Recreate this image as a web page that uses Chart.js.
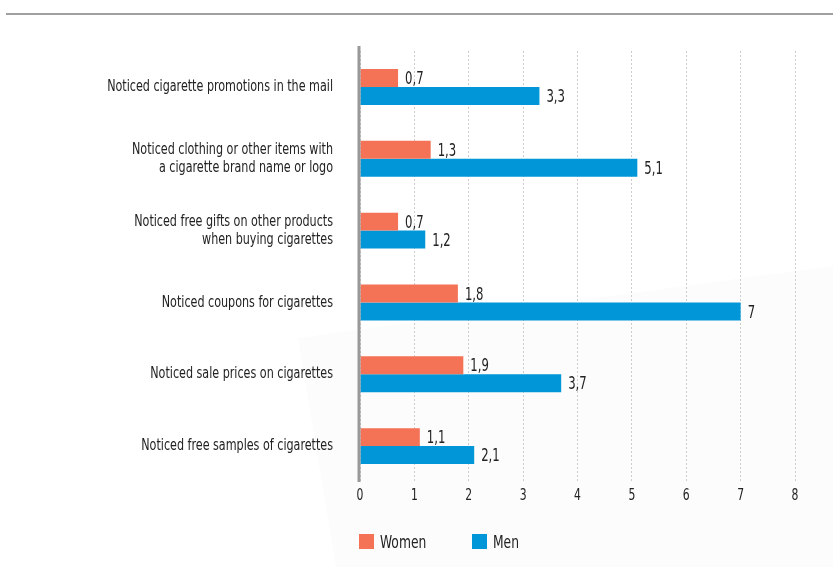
<!DOCTYPE html>
<html>
<head>
<meta charset="utf-8">
<script src="https://cdn.jsdelivr.net/npm/chart.js@4/dist/chart.umd.min.js"></script>
<style>
  html,body{margin:0;padding:0;background:#fff;}
  #wrap{position:relative;width:833px;height:567px;overflow:hidden;background:#fff;}
  #bgshape{position:absolute;left:0;top:0;width:833px;height:567px;background:#fcfcfc;
    clip-path:polygon(298px 338px, 833px 266px, 833px 567px, 336px 567px);}
  #topline{position:absolute;left:6px;right:0;top:13px;height:2px;background:#a0a0a0;}
  canvas{position:absolute;left:0;top:0;}
  .leg{position:absolute;top:532px;font-family:"DejaVu Sans Condensed","DejaVu Sans",sans-serif;font-size:18px;color:#222;display:flex;align-items:center;height:18px;}
  .sw{width:15px;height:15px;display:inline-block;margin-right:6px;flex:none;}
  .lt{display:inline-block;transform:scaleX(0.76);transform-origin:left center;}
</style>
</head>
<body>
<div id="wrap">
  <div id="bgshape"></div>
  <div id="topline"></div>
  <canvas id="c" width="833" height="567"></canvas>
  <div class="leg" style="left:359px;"><span class="sw" style="background:#F47256"></span><span class="lt">Women</span></div>
  <div class="leg" style="left:472px;"><span class="sw" style="background:#0096D8"></span><span class="lt">Men</span></div>
</div>
<script>
const categories = [
  ["Noticed cigarette promotions in the mail"],
  ["Noticed clothing or other items with", "a cigarette brand name or logo"],
  ["Noticed free gifts on other products", "when buying cigarettes"],
  ["Noticed coupons for cigarettes"],
  ["Noticed sale prices on cigarettes"],
  ["Noticed free samples of cigarettes"]
];
const women = [0.7, 1.3, 0.7, 1.8, 1.9, 1.1];
const men = [3.3, 5.1, 1.2, 7, 3.7, 2.1];
const xTicks = [0,1,2,3,4,5,6,7,8];

const FONT = '"DejaVu Sans Condensed","DejaVu Sans",sans-serif';

function drawText(ctx, txt, x, y, align, size, sx) {
  ctx.save();
  ctx.font = size + 'px ' + FONT;
  ctx.textBaseline = 'middle';
  ctx.textAlign = align;
  ctx.translate(x, y);
  ctx.scale(sx, 1);
  ctx.fillText(txt, 0, 0);
  ctx.restore();
}

const textPlugin = {
  id: 'textPlugin',
  afterDraw(chart) {
    const ctx = chart.ctx;
    ctx.save();
    ctx.fillStyle = '#222';
    chart.data.datasets.forEach((ds, di) => {
      const meta = chart.getDatasetMeta(di);
      meta.data.forEach((bar, i) => {
        const txt = String(ds.data[i]).replace('.', ',');
        drawText(ctx, txt, bar.x + 7, bar.y + 1.5, 'left', 18, 0.72);
      });
    });
    const ys = chart.scales.y;
    chart.data.labels.forEach((lab, i) => {
      const cy = ys.getPixelForValue(i);
      const lh = 18;
      const n = lab.length;
      lab.forEach((line, k) => {
        const y = cy - (n - 1) * lh / 2 + k * lh;
        drawText(ctx, line, 333, y, 'right', 16, 0.775);
      });
    });
    const xs = chart.scales.x;
    xTicks.forEach(v => {
      drawText(ctx, String(v), xs.getPixelForValue(v), chart.chartArea.bottom + 14, 'center', 16, 0.75);
    });
    ctx.restore();
  }
};

const axisLine = {
  id: 'axisLine',
  afterDatasetsDraw(chart) {
    const ctx = chart.ctx;
    const x = chart.scales.x.getPixelForValue(0);
    ctx.save();
    ctx.strokeStyle = '#999';
    ctx.lineWidth = 3;
    ctx.beginPath();
    ctx.moveTo(x - 1, chart.chartArea.top - 5);
    ctx.lineTo(x - 1, chart.chartArea.bottom);
    ctx.stroke();
    ctx.restore();
  }
};

new Chart(document.getElementById('c'), {
  type: 'bar',
  data: {
    labels: categories,
    datasets: [
      { label: 'Women', data: women, backgroundColor: '#F47256', categoryPercentage: 0.5, barPercentage: 1.0 },
      { label: 'Men', data: men, backgroundColor: '#0096D8', categoryPercentage: 0.5, barPercentage: 1.0 }
    ]
  },
  options: {
    indexAxis: 'y',
    responsive: false,
    animation: false,
    layout: { padding: { top: 51, right: 38, bottom: 85, left: 0 } },
    plugins: { legend: { display: false }, tooltip: { enabled: false } },
    scales: {
      x: {
        min: 0, max: 8,
        afterBuildTicks(axis) { axis.ticks = xTicks.map(v => ({ value: v })); },
        afterFit(axis) { axis.height = 0; },
        grid: { color: '#cccccc', lineWidth: 1, tickLength: 0, drawTicks: false },
        border: { display: false, dash: [2, 2] },
        ticks: { display: false }
      },
      y: {
        afterFit(axis) { axis.width = 360; },
        grid: { display: false },
        border: { display: false },
        ticks: { display: false }
      }
    }
  },
  plugins: [textPlugin, axisLine]
});
</script>
</body>
</html>
